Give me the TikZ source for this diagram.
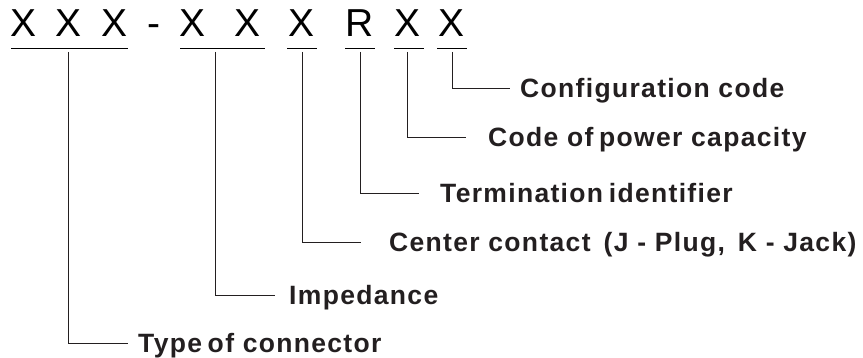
\documentclass[tikz,border=0pt]{standalone}
\usepackage{fontspec}
\setmainfont{Liberation Sans}
\newfontfamily\labfont[LetterSpace=5]{Liberation Sans}
\definecolor{ink}{RGB}{35,31,32}
\begin{document}
\begin{tikzpicture}[x=1pt,y=1pt,
  code/.style={anchor=base,inner sep=0pt,font=\fontsize{39}{40}\selectfont},
  lab/.style={anchor=west,inner xsep=0pt,inner ysep=0pt,text height=19pt,text depth=0pt,
    font=\labfont\bfseries\fontsize{26.5}{28}\selectfont,text=ink},
  uline/.style={line width=0.9pt},
  conn/.style={line width=0.9pt,ink}]
\useasboundingbox (0,0) rectangle (863,-358);
% code letters
\node[code] (l1) at (24,-37) {X};
\node[code] (l2) at (69,-37) {X};
\node[code] (l3) at (115,-37) {X};
\node[code] (dash) at (154,-37) {-};
\node[code] (l4) at (193,-37) {X};
\node[code] (l5) at (248,-37) {X};
\node[code] (l6) at (302,-37) {X};
\node[code] (l7) at (360,-37) {R};
\node[code] (l8) at (408,-37) {X};
\node[code] (l9) at (452,-37) {X};
% underlines
\draw[uline] (11,-48) -- (128,-48);
\draw[uline] (180,-48) -- (265,-48);
\draw[uline] (287,-48) -- (317,-48);
\draw[uline] (345,-48) -- (375,-48);
\draw[uline] (394,-48) -- (424,-48);
\draw[uline] (437,-48) -- (467,-48);
% connector starts
\coordinate (c1) at (68,-52);
\coordinate (c2) at (215,-52);
\coordinate (c3) at (302,-52);
\coordinate (c4) at (360,-52);
\coordinate (c5) at (407,-52);
\coordinate (c6) at (452,-52);
% labels
\node[lab] (t6) at (520,-88) {Configuration code};
\node[lab] (t5) at (488,-137) {Code of\kern-3pt{} power capacity};
\node[lab] (t4) at (440,-193) {Termination\kern-3pt{} identifier};
\node[lab] (t3) at (389,-242) {Center contact\, (J - Plug,\, K - Jack)};
\node[lab] (t2) at (289,-295) {Impedance};
\node[lab] (t1) at (138,-343) {Type\kern-3pt{} of connector};
% connectors
\draw[conn] (c6) |- ([xshift=-10pt]t6.west);
\draw[conn] (c5) |- ([xshift=-22pt]t5.west);
\draw[conn] (c4) |- ([xshift=-21pt]t4.west);
\draw[conn] (c3) |- ([xshift=-28pt]t3.west);
\draw[conn] (c2) |- ([xshift=-14pt]t2.west);
\draw[conn] (c1) |- ([xshift=-10pt]t1.west);
\end{tikzpicture}
\end{document}
